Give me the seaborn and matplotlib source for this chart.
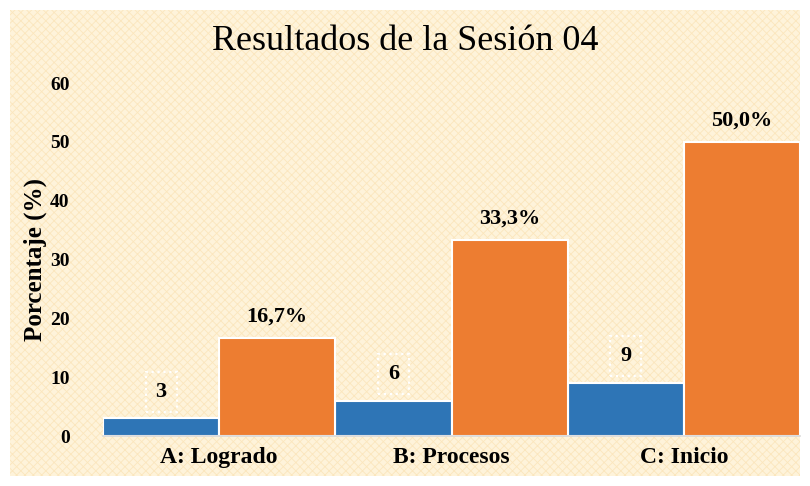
import matplotlib
matplotlib.use("Agg")
import matplotlib.pyplot as plt
import pandas as pd
import seaborn as sns
from matplotlib.patches import Rectangle

# ── data ───────────────────────────────────────────────────────────────
categorias = ["A: Logrado", "B: Procesos", "C: Inicio"]
frecuencia = [3, 6, 9]
porcentaje = [16.7, 33.3, 50.0]
series = ["Frecuencia", "Porcentaje"]
yticks = [0, 10, 20, 30, 40, 50, 60]

df = pd.DataFrame({
    "categoria": categorias * 2,
    "serie": [series[0]] * 3 + [series[1]] * 3,
    "valor": frecuencia + porcentaje,
})

sns.set_theme(style="white")
plt.rcParams["font.family"] = ["Liberation Serif", "DejaVu Serif"]
plt.rcParams["hatch.linewidth"] = 0.6
plt.rcParams["text.color"] = "black"
plt.rcParams["xtick.color"] = "black"
plt.rcParams["ytick.color"] = "black"
plt.rcParams["axes.labelcolor"] = "black"

fig = plt.figure(figsize=(8.1, 4.86), dpi=100)
fig.patch.set_facecolor("white")

# cream textured panel
bg = Rectangle((10 / 810, 10 / 486), 790 / 810, 466 / 486, transform=fig.transFigure,
               facecolor="#fef3da", edgecolor="#fbe6bd", hatch="xxxx", linewidth=0, zorder=-10)
fig.patches.append(bg)

ax = fig.add_axes([103 / 810, 50 / 486, 697 / 810, 353 / 486])
ax.set_facecolor("none")

sns.barplot(data=df, x="categoria", y="valor", hue="serie",
            palette=["#2e75b6", "#ed7d31"], saturation=1, width=1.0, gap=0,
            edgecolor="white", linewidth=1.5, legend=False, ax=ax)

ax.set_xlim(-0.5, 2.5)
ax.set_ylim(0, 60)
ax.set_yticks(yticks)
ax.set_yticklabels([str(t) for t in yticks], fontsize=14, fontweight="bold")
ax.set_xticks(range(len(categorias)))
ax.set_xticklabels(categorias, fontsize=17, fontweight="bold")
ax.tick_params(axis="both", length=0, pad=8)
ax.tick_params(axis="y", pad=24)
ax.set_xlabel("")
ax.set_ylabel("Porcentaje (%)", fontsize=18, fontweight="bold", labelpad=2)

for s in ["top", "right", "left"]:
    ax.spines[s].set_visible(False)
ax.spines["bottom"].set_color("#d9d9d9")
ax.spines["bottom"].set_linewidth(1.2)

# data labels
bars_freq, bars_pct = ax.containers[0], ax.containers[1]
for bar, v in zip(bars_freq, frecuencia):
    ax.annotate(f"{v}", (bar.get_x() + bar.get_width() / 2, bar.get_height()),
                xytext=(0, 12), textcoords="offset points", ha="center", va="bottom",
                fontsize=16, fontweight="bold",
                bbox=dict(boxstyle="square,pad=0.45", facecolor="none",
                          edgecolor="white", linestyle=":", linewidth=1.6))
for bar, v in zip(bars_pct, porcentaje):
    ax.annotate(f"{v:.1f}%".replace(".", ","),
                (bar.get_x() + bar.get_width() / 2, bar.get_height()),
                xytext=(0, 8), textcoords="offset points", ha="center", va="bottom",
                fontsize=16, fontweight="bold")

fig.text(0.5, 1 - 42 / 486, "Resultados de la Sesión 04",
         ha="center", va="center", fontsize=26)

fig.savefig("out.png", dpi=100)
